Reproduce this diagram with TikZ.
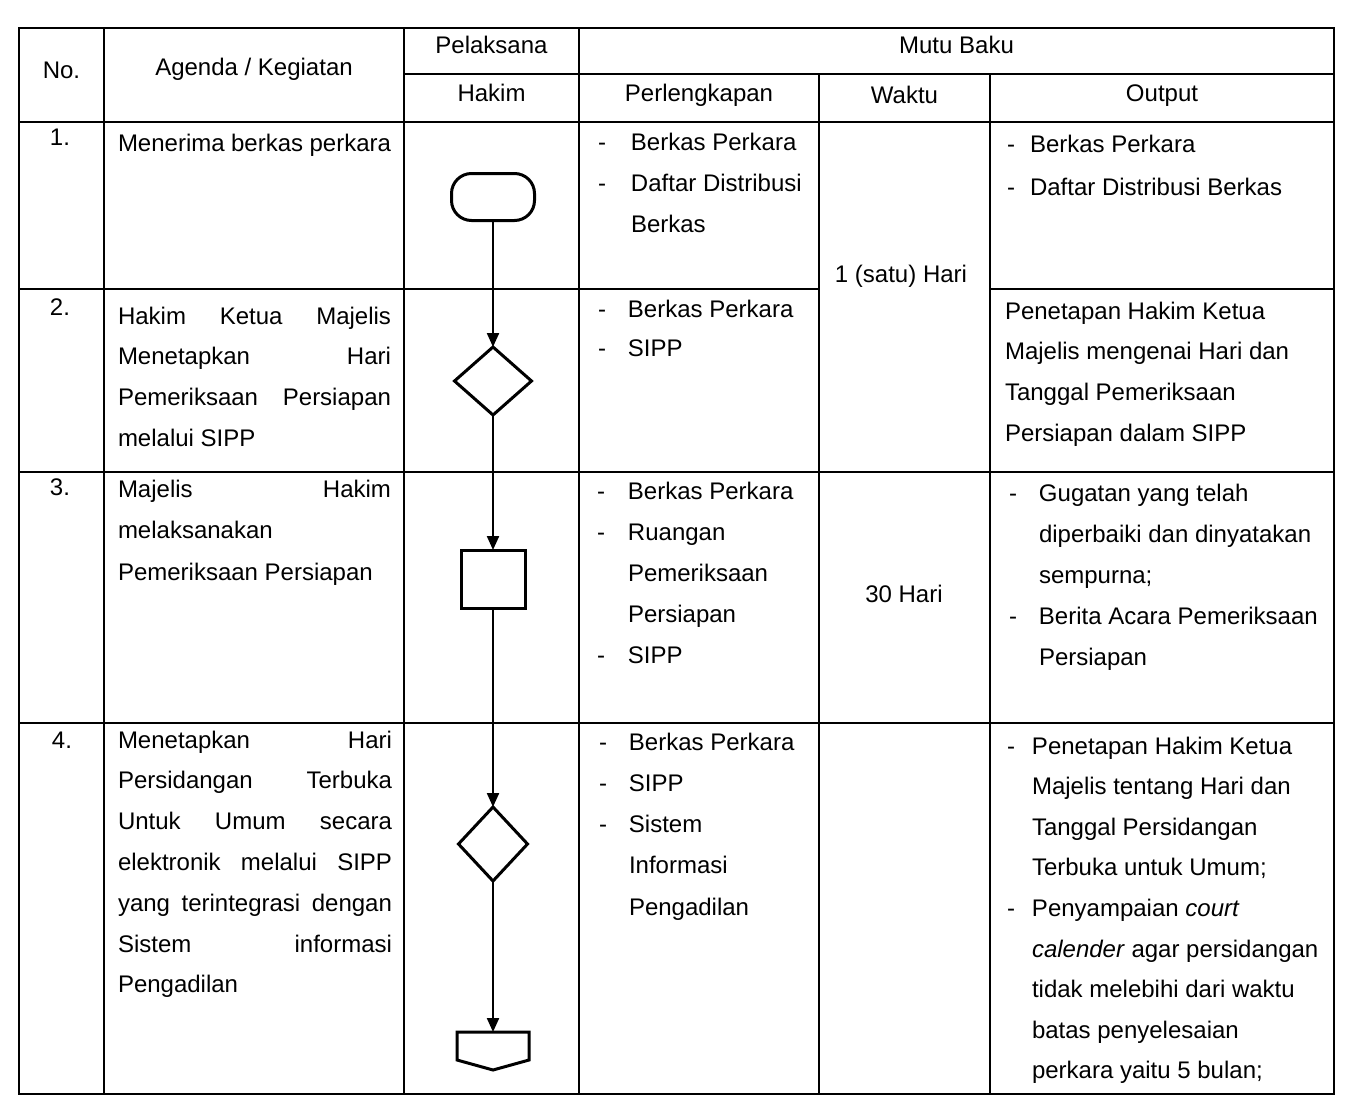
\documentclass[tikz,border=0pt]{standalone}
\usepackage{fontspec}
\setmainfont{Liberation Sans}
\usetikzlibrary{arrows.meta,shapes.geometric}
\newcommand\cellpar[3]{\parbox[t]{#1}{\fontsize{24}{#2}\selectfont #3}}
\newcommand\dsh[1]{\makebox[#1][l]{-}}
\begin{document}
\begin{tikzpicture}[x=1pt,y=-1pt,
  every node/.style={inner sep=0pt, outer sep=0pt, font=\fontsize{24}{41}\selectfont},
  cell/.style={anchor=base west},
  head/.style={anchor=center},
  gridline/.style={line width=2.4pt, line cap=rect},
  shp/.style={draw, line width=3pt},
  flow/.style={line width=2.2pt, -{Triangle[length=14pt,width=12pt]}}
]
\useasboundingbox (0,0) rectangle (1346,1108);
\fill[white] (0,0) rectangle (1346,1108);

% ---- table grid ----
\draw[gridline] (19,28) rectangle (1334,1094);
\draw[gridline] (104,28) -- (104,1094);
\draw[gridline] (404,28) -- (404,1094);
\draw[gridline] (579,28) -- (579,1094);
\draw[gridline] (819,74) -- (819,1094);
\draw[gridline] (990,74) -- (990,1094);
\draw[gridline] (404,74) -- (1334,74);
\draw[gridline] (19,122) -- (1334,122);
\draw[gridline] (19,289) -- (819,289);
\draw[gridline] (990,289) -- (1334,289);
\draw[gridline] (19,472) -- (1334,472);
\draw[gridline] (19,723) -- (1334,723);

% ---- header ----
\node[head] (hno) at (61.5,70) {No.};
\node[head] (hag) at (254,69) {Agenda / Kegiatan};
\node[head] (hpl) at (491.5,45) {Pelaksana};
\node[head] (hhk) at (491.5,93) {Hakim};
\node[head] (hmb) at (956.5,45) {Mutu Baku};
\node[head] (hpe) at (699,95) {Perlengkapan};
\node[head] (hwa) at (904.5,95) {Waktu};
\node[head] (hou) at (1162,96) {Output};

% ---- numbers ----
\node[head] (n1) at (60,137) {1.};
\node[head] (n2) at (60,307) {2.};
\node[head] (n3) at (60,487) {3.};
\node[head] (n4) at (62,740) {4.};

% ---- agenda ----
\node[cell] (a1) at (118,151) {\cellpar{273pt}{41pt}{Menerima berkas perkara}};
\node[cell] (a2) at (118,324) {\cellpar{273pt}{40.7pt}{Hakim\hfill Ketua\hfill Majelis\\
Menetapkan\hfill Hari\\
Pemeriksaan\hfill Persiapan\\
melalui SIPP}};
\node[cell] (a3) at (118,497) {\cellpar{273pt}{41.5pt}{Majelis\hfill Hakim\\
melaksanakan\\
Pemeriksaan Persiapan}};
\node[cell] (a4) at (118,748) {\cellpar{274pt}{40.8pt}{Menetapkan\hfill Hari\\
Persidangan\hfill Terbuka\\
Untuk\hfill Umum\hfill secara\\
elektronik\hfill melalui\hfill SIPP\\
yang\hfill terintegrasi\hfill dengan\\
Sistem\hfill informasi\\
Pengadilan}};

% ---- perlengkapan ----
\node[cell] (p1) at (598,150) {\cellpar{230pt}{41pt}{\dsh{33pt}Berkas Perkara\\
\dsh{33pt}Daftar Distribusi\\
\hspace*{33pt}Berkas}};
\node[cell] (p2) at (598,317) {\cellpar{230pt}{39pt}{\dsh{30pt}Berkas Perkara\\
\dsh{30pt}SIPP}};
\node[cell] (p3) at (597,499) {\cellpar{230pt}{41pt}{\dsh{31pt}Berkas Perkara\\
\dsh{31pt}Ruangan\\
\hspace*{31pt}Pemeriksaan\\
\hspace*{31pt}Persiapan\\
\dsh{31pt}SIPP}};
\node[cell] (p4) at (599,750) {\cellpar{230pt}{41.25pt}{\dsh{30pt}Berkas Perkara\\
\dsh{30pt}SIPP\\
\dsh{30pt}Sistem\\
\hspace*{30pt}Informasi\\
\hspace*{30pt}Pengadilan}};

% ---- waktu ----
\node[head] (w1) at (901,276) {1 (satu) Hari};
\node[head] (w3) at (904,594) {30 Hari};

% ---- output ----
\node[cell] (o1) at (1007,152) {\cellpar{330pt}{43pt}{\dsh{23pt}Berkas Perkara\\
\dsh{23pt}Daftar Distribusi Berkas}};
\node[cell] (o2) at (1005,319) {\cellpar{330pt}{40.7pt}{Penetapan Hakim Ketua\\
Majelis mengenai Hari dan\\
Tanggal Pemeriksaan\\
Persiapan dalam SIPP}};
\node[cell] (o3) at (1009,501) {\cellpar{330pt}{41pt}{\dsh{30pt}Gugatan yang telah\\
\hspace*{30pt}diperbaiki dan dinyatakan\\
\hspace*{30pt}sempurna;\\
\dsh{30pt}Berita Acara Pemeriksaan\\
\hspace*{30pt}Persiapan}};
\node[cell] (o4) at (1007,754) {\cellpar{330pt}{40.6pt}{\dsh{25pt}Penetapan Hakim Ketua\\
\hspace*{25pt}Majelis tentang Hari dan\\
\hspace*{25pt}Tanggal Persidangan\\
\hspace*{25pt}Terbuka untuk Umum;\\
\dsh{25pt}Penyampaian \textit{court}\\
\hspace*{25pt}\textit{calender} agar persidangan\\
\hspace*{25pt}tidak melebihi dari waktu\\
\hspace*{25pt}batas penyelesaian\\
\hspace*{25pt}perkara yaitu 5 bulan;}};

% ---- flow chart ----
\node[shp, rectangle, rounded corners=20pt, minimum width=83pt, minimum height=47pt] (t1) at (493,197) {};
\node[shp, diamond, minimum width=77pt, minimum height=68pt] (d1) at (493,381) {};
\node[shp, rectangle, minimum width=64pt, minimum height=58pt] (r1) at (493,579) {};
\node[shp, diamond, minimum width=69pt, minimum height=74pt] (d2) at (493,844) {};
\node[minimum width=72pt, minimum height=38pt] (off) at (493,1051) {};
\draw[line width=3pt, line join=miter] (off.north west) -- (off.north east) -- ([yshift=10pt]off.south east) -- (off.south) -- ([yshift=10pt]off.south west) -- cycle;

\draw[flow] (t1.south) -- (d1.north);
\draw[flow] (d1.south) -- (r1.north);
\draw[flow] (r1.south) -- (d2.north);
\draw[flow] (d2.south) -- (off.north);
\end{tikzpicture}
\end{document}
